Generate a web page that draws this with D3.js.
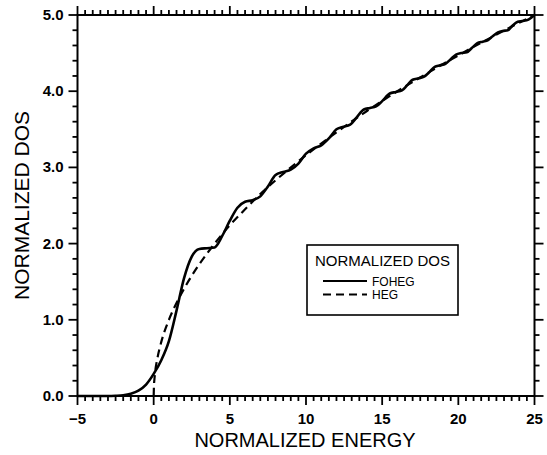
<!DOCTYPE html>
<html>
<head>
<meta charset="utf-8">
<script src="https://cdn.jsdelivr.net/npm/d3@7"></script>
<style>
  body { margin: 0; background: #fff; }
  .tick-label { font-family: "Liberation Sans", Arial, sans-serif; font-size: 15px; font-weight: bold; fill: #000; }
  .title { font-family: "Liberation Sans", Arial, sans-serif; fill: #000; }
</style>
</head>
<body>
<div id="canvas"></div>
<script>
// values
var fohegE = [-5, -3, -2.5, -2, -1.5, -1, -0.5, 0, 0.5, 1, 1.5, 2, 2.5, 3, 3.5, 4, 4.5, 5, 5.5, 6, 6.5, 7, 7.5,
  8, 8.5, 9, 9.5, 10, 10.5, 11, 11.5, 12, 12.4, 12.9, 13.3, 13.8, 14.2, 14.6, 15, 15.5, 15.9, 16.3, 16.65,
  17, 17.4, 17.75, 18.1, 18.45, 18.8, 19.15, 19.5, 19.85, 20.2, 20.55, 20.9, 21.25, 21.6, 21.95, 22.25,
  22.6, 22.9, 23.25, 23.55, 23.9, 24.2, 24.6, 25];
var fohegDos = [0, 0, 0.003, 0.01, 0.03, 0.07, 0.15, 0.29, 0.47, 0.72, 1.12, 1.55, 1.83, 1.93, 1.94, 1.95, 2.10, 2.30, 2.47, 2.55, 2.57, 2.62, 2.75,
  2.90, 2.94, 2.97, 3.05, 3.18, 3.25, 3.29, 3.38, 3.50, 3.53, 3.56, 3.65, 3.76, 3.78, 3.80, 3.87, 3.97, 3.99, 4.01, 4.08,
  4.15, 4.17, 4.19, 4.25, 4.32, 4.34, 4.36, 4.42, 4.48, 4.50, 4.51, 4.57, 4.63, 4.65, 4.67, 4.72,
  4.77, 4.79, 4.80, 4.86, 4.91, 4.92, 4.94, 5.0];
var hegE = [0, 0.02, 0.05, 0.1, 0.25, 0.5, 1, 1.5, 2, 3, 4, 5, 6, 7, 8, 10, 12, 14, 16, 18, 20, 22, 25];
var hegDos = [0, 0.14, 0.22, 0.32, 0.5, 0.71, 1, 1.22, 1.41, 1.73, 2, 2.24, 2.45, 2.65, 2.83, 3.16, 3.46, 3.74, 4, 4.24, 4.47, 4.69, 5];

var xTicks = [-5, 0, 5, 10, 15, 20, 25];
var yTicks = [0, 1, 2, 3, 4, 5];
var seriesNames = ['FOHEG', 'HEG'];

var W = 547, H = 455;
var m = {t: 15, r: 12.5, b: 59, l: 77.5},
    w = W - m.l - m.r,
    h = H - m.t - m.b;

var svg = d3.select('#canvas').append('svg')
    .attr('width', W).attr('height', H);
var plot = svg.append('g')
    .attr('transform', 'translate(' + m.l + ',' + m.t + ')');

var scaleX = d3.scaleLinear().domain([-5, 25]).range([0, w]);
var scaleY = d3.scaleLinear().domain([0, 5]).range([h, 0]);

// tick positions: major every 5 / 1.0, minor every 0.5 / 0.2
var xAll = d3.range(0, 61).map(function(i){ return -5 + i * 0.5; });
var yAll = d3.range(0, 26).map(function(i){ return +(i * 0.2).toFixed(1); });
function isMajorX(v){ return xTicks.indexOf(v) >= 0; }
function isMajorY(v){ return yTicks.indexOf(v) >= 0; }

var ticks = plot.append('g').attr('stroke', '#000').attr('stroke-width', 1.8);
// bottom + top
ticks.selectAll('.tb').data(xAll).enter().append('line')
    .attr('x1', function(d){ return scaleX(d); }).attr('x2', function(d){ return scaleX(d); })
    .attr('y1', h).attr('y2', function(d){ return h + (isMajorX(d) ? 9 : 5); });
ticks.selectAll('.tt').data(xAll).enter().append('line')
    .attr('x1', function(d){ return scaleX(d); }).attr('x2', function(d){ return scaleX(d); })
    .attr('y1', 0).attr('y2', function(d){ return isMajorX(d) ? -9 : -5; });
// left + right
ticks.selectAll('.tl').data(yAll).enter().append('line')
    .attr('y1', function(d){ return scaleY(d); }).attr('y2', function(d){ return scaleY(d); })
    .attr('x1', 0).attr('x2', function(d){ return isMajorY(d) ? -9 : -5; });
ticks.selectAll('.tr').data(yAll).enter().append('line')
    .attr('y1', function(d){ return scaleY(d); }).attr('y2', function(d){ return scaleY(d); })
    .attr('x1', w).attr('x2', function(d){ return w + (isMajorY(d) ? 9 : 5); });

// frame
plot.append('rect').attr('x', 0).attr('y', 0).attr('width', w).attr('height', h)
    .attr('fill', 'none').attr('stroke', '#000').attr('stroke-width', 2);

// tick labels
plot.selectAll('.xl').data(xTicks).enter().append('text')
    .attr('class', 'tick-label')
    .attr('x', function(d){ return scaleX(d); }).attr('y', h + 28)
    .attr('text-anchor', 'middle')
    .text(function(d){ return d < 0 ? '\u2212' + Math.abs(d) : d; });
plot.selectAll('.yl').data(yTicks).enter().append('text')
    .attr('class', 'tick-label')
    .attr('x', -14).attr('y', function(d){ return scaleY(d) + 5; })
    .attr('text-anchor', 'end')
    .text(d3.format('.1f'));

// curves
var line = d3.line()
    .x(function(d){ return scaleX(d[0]); })
    .y(function(d){ return scaleY(d[1]); })
    .curve(d3.curveMonotoneX);

var foheg = fohegE.map(function(e, i){ return [e, fohegDos[i]]; });
var heg = hegE.map(function(e, i){ return [e, hegDos[i]]; });

plot.append('path').datum(foheg)
    .attr('d', line).attr('fill', 'none')
    .attr('stroke', '#000').attr('stroke-width', 2.6);
plot.append('path').datum(heg)
    .attr('d', line).attr('fill', 'none')
    .attr('stroke', '#000').attr('stroke-width', 2.2)
    .attr('stroke-dasharray', '8,5');

// axis titles
svg.append('text').attr('class', 'title')
    .attr('x', m.l + w / 2 - 1).attr('y', 447)
    .attr('text-anchor', 'middle').style('font-size', '20px')
    .text('NORMALIZED ENERGY');
svg.append('text').attr('class', 'title')
    .attr('transform', 'translate(29,' + (m.t + h / 2) + ') rotate(-90)')
    .attr('text-anchor', 'middle').style('font-size', '21px')
    .text('NORMALIZED DOS');

// legend
var leg = svg.append('g');
leg.append('rect').attr('x', 307).attr('y', 245).attr('width', 151).attr('height', 70)
    .attr('fill', '#fff').attr('stroke', '#000').attr('stroke-width', 1.6);
leg.append('text').attr('class', 'title').attr('x', 382.5).attr('y', 266)
    .attr('text-anchor', 'middle').style('font-size', '15px')
    .text('NORMALIZED DOS');
leg.selectAll('.item').data(seriesNames).enter().append('g')
    .each(function(d, i){
      var g = d3.select(this), yy = 281 + i * 13.5;
      g.append('line').attr('x1', 323).attr('x2', 367).attr('y1', yy).attr('y2', yy)
        .attr('stroke', '#000').attr('stroke-width', i ? 1.8 : 2)
        .attr('stroke-dasharray', i ? '8,5' : null);
      g.append('text').attr('class', 'title').attr('x', 372).attr('y', yy + 4.5)
        .style('font-size', '12px').text(d);
    });
</script>
</body>
</html>
